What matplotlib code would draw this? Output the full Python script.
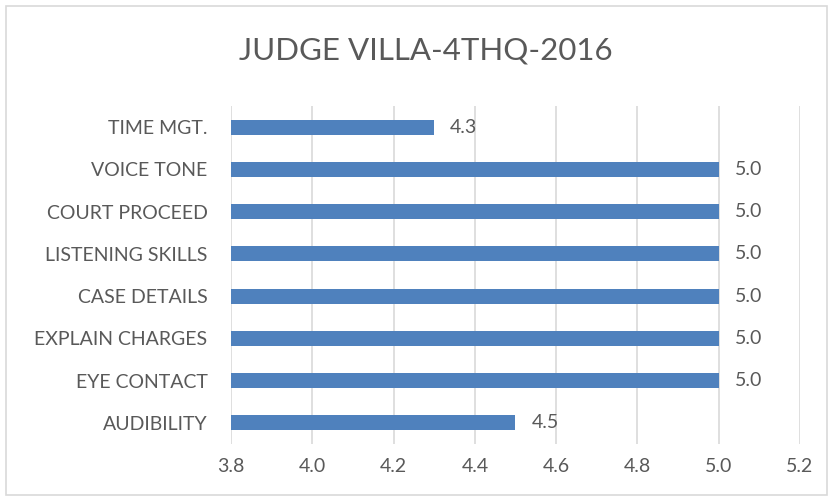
import matplotlib
matplotlib.use("Agg")
import matplotlib.pyplot as plt
from matplotlib.patches import Rectangle

categories = ["AUDIBILITY", "EYE CONTACT", "EXPLAIN CHARGES", "CASE DETAILS",
              "LISTENING SKILLS", "COURT PROCEED", "VOICE TONE", "TIME MGT."]
values = [4.5, 5.0, 5.0, 5.0, 5.0, 5.0, 5.0, 4.3]
xticks = [3.8, 4.0, 4.2, 4.4, 4.6, 4.8, 5.0, 5.2]
title = "JUDGE VILLA-4THQ-2016"

plt.rcParams['font.family'] = ['Lato', 'DejaVu Sans']
txt = '#595959'
bar_color = '#4F81BD'
grid_color = '#D9D9D9'

fig = plt.figure(figsize=(8.33, 5.01), dpi=100)
fig.patches.append(Rectangle((6/833, 6/501), 821/833, 489/501, transform=fig.transFigure,
                             fill=False, edgecolor=grid_color, linewidth=1.2))
ax = fig.add_axes([231/833, 57/501, 569/833, 338/501])

y = list(range(len(categories)))
ax.barh(y, [v - xticks[0] for v in values], left=xticks[0], height=0.36,
        color=bar_color, zorder=3)
ax.set_xlim(xticks[0], xticks[-1])
ax.set_ylim(-0.5, len(categories) - 0.5)
ax.set_xticks(xticks)
ax.set_xticklabels([f"{t:.1f}" for t in xticks])
ax.set_yticks(y)
ax.set_yticklabels(categories)
ax.tick_params(axis='both', length=0, labelsize=14, colors=txt)
ax.tick_params(axis='y', pad=17)
ax.tick_params(axis='x', pad=10)
for s in ax.spines.values():
    s.set_visible(False)
ax.grid(axis='x', color=grid_color, linewidth=1.2, zorder=0)
ax.set_axisbelow(True)

for yi, v in zip(y, values):
    ax.annotate(f"{v:.1f}", (v, yi), xytext=(16, 0), textcoords='offset pixels',
                va='center', ha='left', fontsize=14, color=txt)

fig.text(426/833, 1 - 51/501, title, ha='center', va='center', fontsize=22.5, color=txt)

fig.savefig("out.png", dpi=100)
